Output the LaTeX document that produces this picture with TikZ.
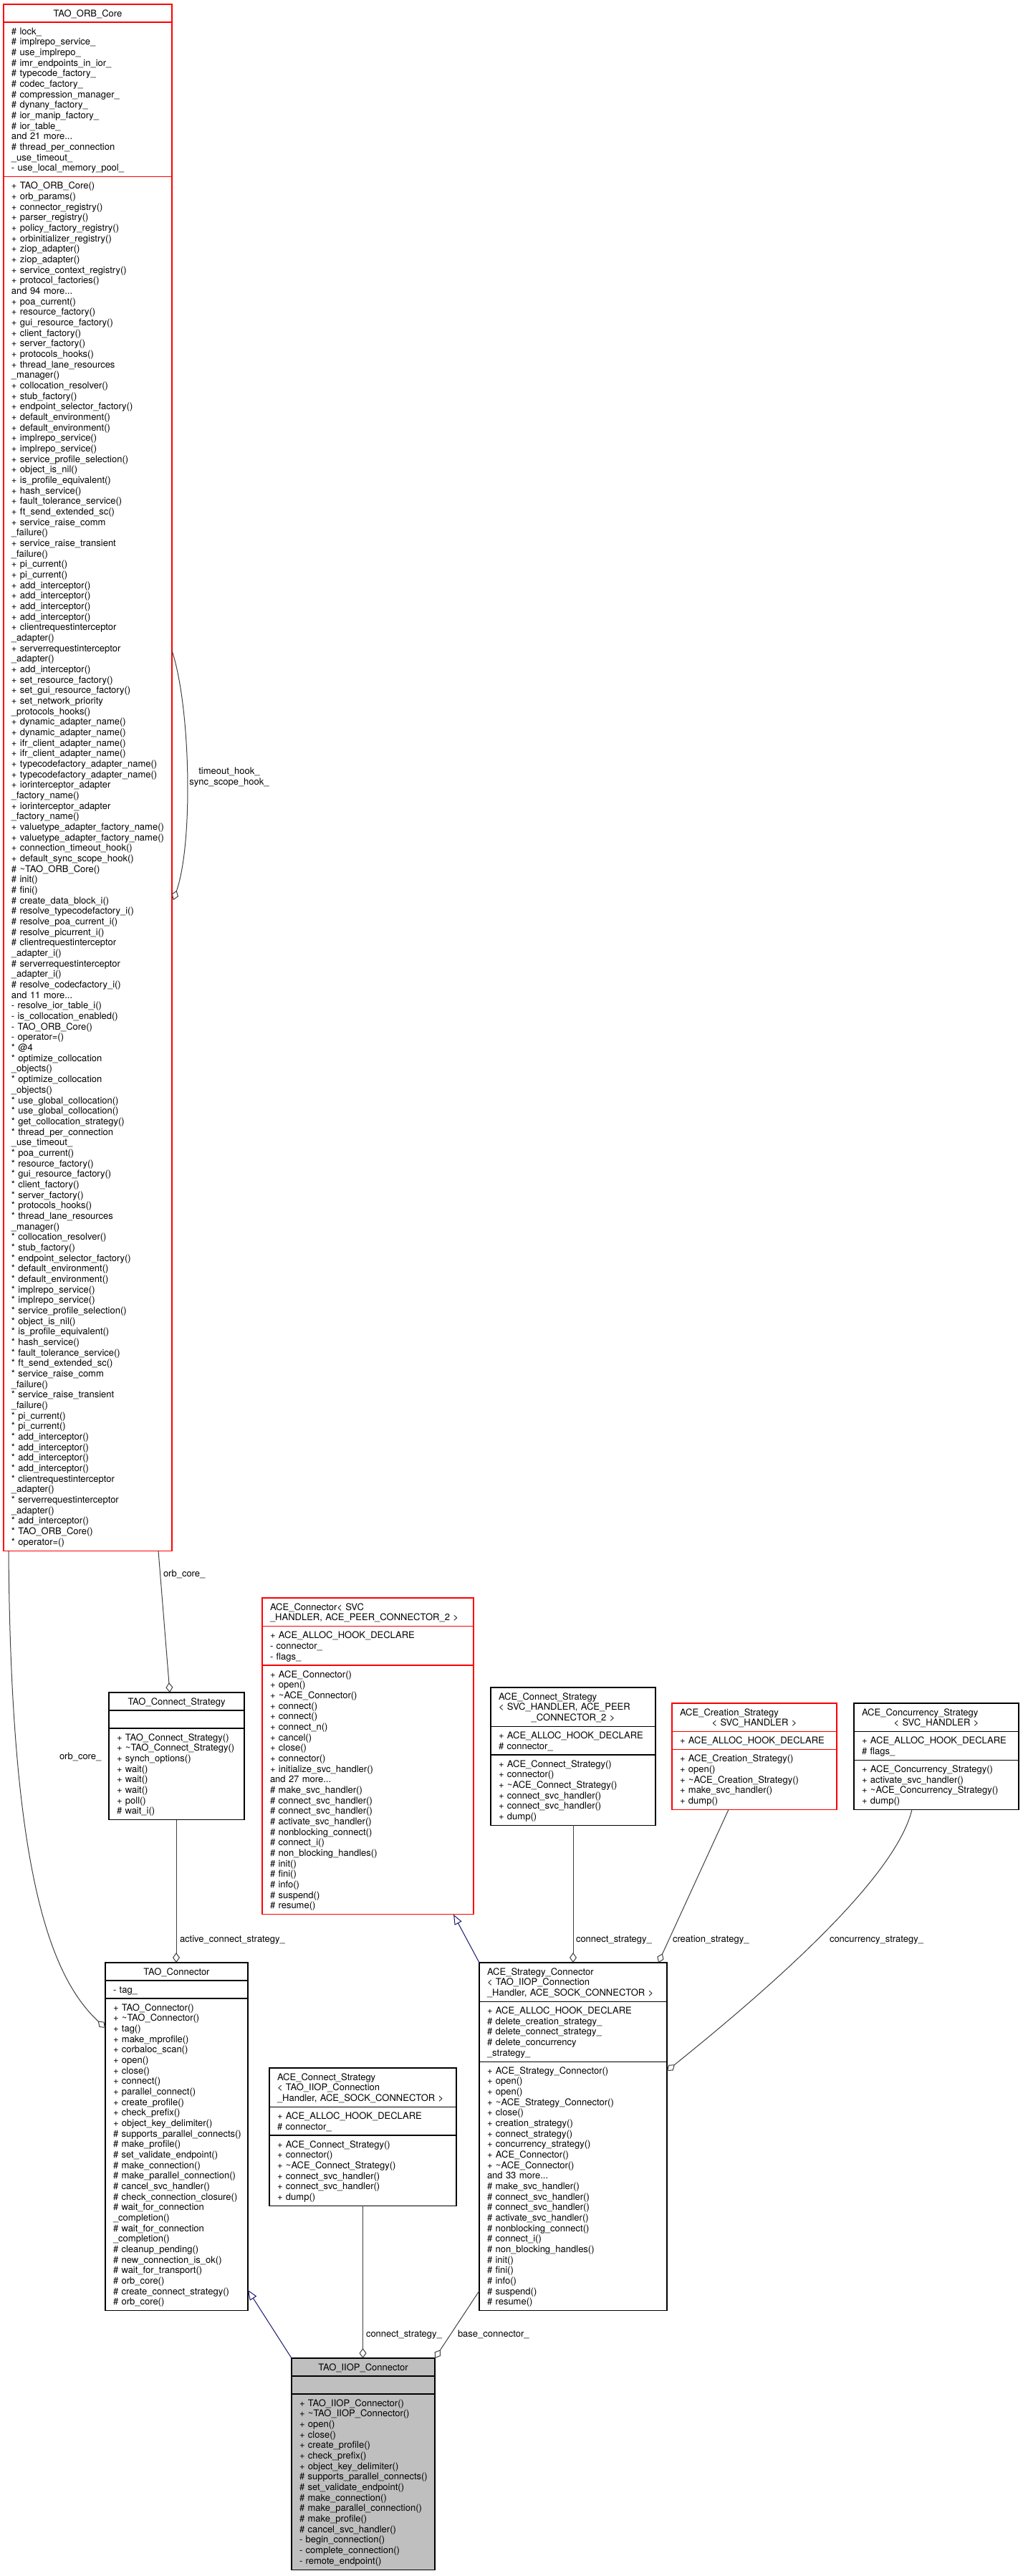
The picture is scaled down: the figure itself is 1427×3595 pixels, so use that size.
\documentclass[tikz,border=0pt]{standalone}
\usepackage{fontspec}
\setmainfont{TeX Gyre Heros}
\usetikzlibrary{arrows.meta,calc}
\definecolor{edgegray}{HTML}{404040}
\definecolor{navyblue}{HTML}{191970}
\definecolor{boxred}{HTML}{FF0000}
\definecolor{iiopfill}{HTML}{BFBFBF}
\newcommand\fstrut{\rule{0pt}{10pt}}
\newcommand\tld{\textasciitilde}
\tikzset{
  txt/.style={font=\fontsize{13}{14.67}\selectfont, inner sep=0pt, outer sep=0pt, text width=400pt, align=left, execute at begin node=\fstrut},
  ctxt/.style={font=\fontsize{13}{14.67}\selectfont, inner sep=0pt, outer sep=0pt, text width=300pt, align=center, execute at begin node=\fstrut},
  lbl/.style={txt, anchor=north west},
  aggr/.style={draw=edgegray, line width=1pt, -{Diamond[open, length=14pt, width=10pt]}},
  gen/.style={draw=navyblue, line width=1pt, -{Triangle[open, length=14pt, width=11pt]}},
}
% #1 name, #2 colour, #3 fill, #4 x, #5 top, #6 width, #7 header lines, #8 attr lines, #9 method lines
\newcommand\umlclass[9]{%
  \pgfmathsetmacro\hA{(#7-1)*14.67+25}%
  \pgfmathsetmacro\hB{(#8-1)*14.67+25}%
  \pgfmathsetmacro\hC{(#9-1)*14.67+25}%
  \pgfmathsetmacro\hT{\hA+\hB+\hC}%
  \pgfmathsetmacro\hAB{\hA+\hB}%
  \node[draw=#2, fill=#3, line width=1.1pt, inner sep=0pt, outer sep=0pt, anchor=north west,
        minimum width=#6pt, minimum height=\hT pt] (#1) at (#4,#5) {};
  \draw[#2, line width=1.1pt] ($(#1.north west)+(0,\hA)$) -- ($(#1.north east)+(0,\hA)$);
  \draw[#2, line width=1.1pt] ($(#1.north west)+(0,\hAB)$) -- ($(#1.north east)+(0,\hAB)$);
  \ifx\att\empty\else
    \node[txt, anchor=north west] (#1-a) at ($(#1.north west)+(11,{\hA+7})$) {\att};
  \fi
  \node[txt, anchor=north west] (#1-m) at ($(#1.north west)+(11,{\hAB+7})$) {\mth};
}
\begin{document}
\begin{tikzpicture}[x=1pt,y=-1pt]
\catcode`\_=12
\useasboundingbox[fill=white] (0,0) rectangle (1427,3595);

% ---------------- TAO_ORB_Core
\def\att{\# lock_\\\# implrepo_service_\\\# use_implrepo_\\\# imr_endpoints_in_ior_\\\# typecode_factory_\\\# codec_factory_\\\# compression_manager_\\\# dynany_factory_\\\# ior_manip_factory_\\\# ior_table_\\and 21 more...\\\# thread_per_connection\\_use_timeout_\\- use_local_memory_pool_}
\def\mth{+ TAO_ORB_Core()\\+ orb_params()\\+ connector_registry()\\+ parser_registry()\\+ policy_factory_registry()\\+ orbinitializer_registry()\\+ ziop_adapter()\\+ ziop_adapter()\\+ service_context_registry()\\+ protocol_factories()\\and 94 more...\\+ poa_current()\\+ resource_factory()\\+ gui_resource_factory()\\+ client_factory()\\+ server_factory()\\+ protocols_hooks()\\+ thread_lane_resources\\_manager()\\+ collocation_resolver()\\+ stub_factory()\\+ endpoint_selector_factory()\\+ default_environment()\\+ default_environment()\\+ implrepo_service()\\+ implrepo_service()\\+ service_profile_selection()\\+ object_is_nil()\\+ is_profile_equivalent()\\+ hash_service()\\+ fault_tolerance_service()\\+ ft_send_extended_sc()\\+ service_raise_comm\\_failure()\\+ service_raise_transient\\_failure()\\+ pi_current()\\+ pi_current()\\+ add_interceptor()\\+ add_interceptor()\\+ add_interceptor()\\+ add_interceptor()\\+ clientrequestinterceptor\\_adapter()\\+ serverrequestinterceptor\\_adapter()\\+ add_interceptor()\\+ set_resource_factory()\\+ set_gui_resource_factory()\\+ set_network_priority\\_protocols_hooks()\\+ dynamic_adapter_name()\\+ dynamic_adapter_name()\\+ ifr_client_adapter_name()\\+ ifr_client_adapter_name()\\+ typecodefactory_adapter_name()\\+ typecodefactory_adapter_name()\\+ iorinterceptor_adapter\\_factory_name()\\+ iorinterceptor_adapter\\_factory_name()\\+ valuetype_adapter_factory_name()\\+ valuetype_adapter_factory_name()\\+ connection_timeout_hook()\\+ default_sync_scope_hook()\\\# \tld TAO_ORB_Core()\\\# init()\\\# fini()\\\# create_data_block_i()\\\# resolve_typecodefactory_i()\\\# resolve_poa_current_i()\\\# resolve_picurrent_i()\\\# clientrequestinterceptor\\_adapter_i()\\\# serverrequestinterceptor\\_adapter_i()\\\# resolve_codecfactory_i()\\and 11 more...\\- resolve_ior_table_i()\\- is_collocation_enabled()\\- TAO_ORB_Core()\\- operator=()\\{}* @4\\{}* optimize_collocation\\_objects()\\{}* optimize_collocation\\_objects()\\{}* use_global_collocation()\\{}* use_global_collocation()\\{}* get_collocation_strategy()\\{}* thread_per_connection\\_use_timeout_\\{}* poa_current()\\{}* resource_factory()\\{}* gui_resource_factory()\\{}* client_factory()\\{}* server_factory()\\{}* protocols_hooks()\\{}* thread_lane_resources\\_manager()\\{}* collocation_resolver()\\{}* stub_factory()\\{}* endpoint_selector_factory()\\{}* default_environment()\\{}* default_environment()\\{}* implrepo_service()\\{}* implrepo_service()\\{}* service_profile_selection()\\{}* object_is_nil()\\{}* is_profile_equivalent()\\{}* hash_service()\\{}* fault_tolerance_service()\\{}* ft_send_extended_sc()\\{}* service_raise_comm\\_failure()\\{}* service_raise_transient\\_failure()\\{}* pi_current()\\{}* pi_current()\\{}* add_interceptor()\\{}* add_interceptor()\\{}* add_interceptor()\\{}* add_interceptor()\\{}* clientrequestinterceptor\\_adapter()\\{}* serverrequestinterceptor\\_adapter()\\{}* add_interceptor()\\{}* TAO_ORB_Core()\\{}* operator=()}
\umlclass{orb}{boxred}{white}{5}{6}{235}{1}{14}{130}
\node[ctxt, anchor=north] (orb-h) at ($(orb.north)+(0,7)$) {TAO_ORB_Core};

% ---------------- TAO_Connect_Strategy
\def\att{}
\def\mth{+ TAO_Connect_Strategy()\\+ \tld TAO_Connect_Strategy()\\+ synch_options()\\+ wait()\\+ wait()\\+ wait()\\+ poll()\\\# wait_i()}
\umlclass{tcs}{black}{white}{152}{2362}{189}{1}{1}{8}
\node[ctxt, anchor=north] (tcs-h) at ($(tcs.north)+(0,7)$) {TAO_Connect_Strategy};

% ---------------- TAO_Connector
\def\att{- tag_}
\def\mth{+ TAO_Connector()\\+ \tld TAO_Connector()\\+ tag()\\+ make_mprofile()\\+ corbaloc_scan()\\+ open()\\+ close()\\+ connect()\\+ parallel_connect()\\+ create_profile()\\+ check_prefix()\\+ object_key_delimiter()\\\# supports_parallel_connects()\\\# make_profile()\\\# set_validate_endpoint()\\\# make_connection()\\\# make_parallel_connection()\\\# cancel_svc_handler()\\\# check_connection_closure()\\\# wait_for_connection\\_completion()\\\# wait_for_connection\\_completion()\\\# cleanup_pending()\\\# new_connection_is_ok()\\\# wait_for_transport()\\\# orb_core()\\\# create_connect_strategy()\\\# orb_core()}
\umlclass{tcon}{black}{white}{147}{2739}{199}{1}{1}{29}
\node[ctxt, anchor=north] (tcon-h) at ($(tcon.north)+(0,7)$) {TAO_Connector};

% ---------------- ACE_Connector
\def\att{+ ACE_ALLOC_HOOK_DECLARE\\- connector_\\- flags_}
\def\mth{+ ACE_Connector()\\+ open()\\+ \tld ACE_Connector()\\+ connect()\\+ connect()\\+ connect_n()\\+ cancel()\\+ close()\\+ connector()\\+ initialize_svc_handler()\\and 27 more...\\\# make_svc_handler()\\\# connect_svc_handler()\\\# connect_svc_handler()\\\# activate_svc_handler()\\\# nonblocking_connect()\\\# connect_i()\\\# non_blocking_handles()\\\# init()\\\# fini()\\\# info()\\\# suspend()\\\# resume()}
\umlclass{acon}{boxred}{white}{366}{2230}{295}{2}{3}{23}
\node[txt, anchor=north west] (acon-h) at ($(acon.north west)+(11,7)$) {ACE_Connector< SVC\\_HANDLER, ACE_PEER_CONNECTOR_2 >};

% ---------------- ACE_Connect_Strategy< SVC_HANDLER, ACE_PEER_CONNECTOR_2 >
\def\att{+ ACE_ALLOC_HOOK_DECLARE\\\# connector_}
\def\mth{+ ACE_Connect_Strategy()\\+ connector()\\+ \tld ACE_Connect_Strategy()\\+ connect_svc_handler()\\+ connect_svc_handler()\\+ dump()}
\umlclass{acs}{black}{white}{685}{2355}{230}{3}{2}{6}
\node[txt, anchor=north west] (acs-h) at ($(acs.north west)+(11,7)$) {ACE_Connect_Strategy\\< SVC_HANDLER, ACE_PEER};
\node[ctxt, anchor=north] (acs-h2) at ($(acs.north)+(0,36.34)$) {_CONNECTOR_2 >};

% ---------------- ACE_Creation_Strategy
\def\att{+ ACE_ALLOC_HOOK_DECLARE}
\def\mth{+ ACE_Creation_Strategy()\\+ open()\\+ \tld ACE_Creation_Strategy()\\+ make_svc_handler()\\+ dump()}
\umlclass{acr}{boxred}{white}{938}{2377}{230}{2}{1}{5}
\node[txt, anchor=north west] (acr-h) at ($(acr.north west)+(11,7)$) {ACE_Creation_Strategy};
\node[ctxt, anchor=north] (acr-h2) at ($(acr.north)+(0,21.67)$) {< SVC_HANDLER >};

% ---------------- ACE_Concurrency_Strategy
\def\att{+ ACE_ALLOC_HOOK_DECLARE\\\# flags_}
\def\mth{+ ACE_Concurrency_Strategy()\\+ activate_svc_handler()\\+ \tld ACE_Concurrency_Strategy()\\+ dump()}
\umlclass{acc}{black}{white}{1192}{2377}{230}{2}{2}{4}
\node[txt, anchor=north west] (acc-h) at ($(acc.north west)+(11,7)$) {ACE_Concurrency_Strategy};
\node[ctxt, anchor=north] (acc-h2) at ($(acc.north)+(0,21.67)$) {< SVC_HANDLER >};

% ---------------- ACE_Strategy_Connector
\def\att{+ ACE_ALLOC_HOOK_DECLARE\\\# delete_creation_strategy_\\\# delete_connect_strategy_\\\# delete_concurrency\\_strategy_}
\def\mth{+ ACE_Strategy_Connector()\\+ open()\\+ open()\\+ \tld ACE_Strategy_Connector()\\+ close()\\+ creation_strategy()\\+ connect_strategy()\\+ concurrency_strategy()\\+ ACE_Connector()\\+ \tld ACE_Connector()\\and 33 more...\\\# make_svc_handler()\\\# connect_svc_handler()\\\# connect_svc_handler()\\\# activate_svc_handler()\\\# nonblocking_connect()\\\# connect_i()\\\# non_blocking_handles()\\\# init()\\\# fini()\\\# info()\\\# suspend()\\\# resume()}
\umlclass{asc}{black}{white}{669}{2739}{262}{3}{5}{23}
\node[txt, anchor=north west] (asc-h) at ($(asc.north west)+(11,7)$) {ACE_Strategy_Connector\\< TAO_IIOP_Connection\\_Handler, ACE_SOCK_CONNECTOR >};

% ---------------- ACE_Connect_Strategy< TAO_IIOP_Connection_Handler, ACE_SOCK_CONNECTOR >
\def\att{+ ACE_ALLOC_HOOK_DECLARE\\\# connector_}
\def\mth{+ ACE_Connect_Strategy()\\+ connector()\\+ \tld ACE_Connect_Strategy()\\+ connect_svc_handler()\\+ connect_svc_handler()\\+ dump()}
\umlclass{acsi}{black}{white}{376}{2886}{261}{3}{2}{6}
\node[txt, anchor=north west] (acsi-h) at ($(acsi.north west)+(11,7)$) {ACE_Connect_Strategy\\< TAO_IIOP_Connection\\_Handler, ACE_SOCK_CONNECTOR >};

% ---------------- TAO_IIOP_Connector
\def\att{}
\def\mth{+ TAO_IIOP_Connector()\\+ \tld TAO_IIOP_Connector()\\+ open()\\+ close()\\+ create_profile()\\+ check_prefix()\\+ object_key_delimiter()\\\# supports_parallel_connects()\\\# set_validate_endpoint()\\\# make_connection()\\\# make_parallel_connection()\\\# make_profile()\\\# cancel_svc_handler()\\- begin_connection()\\- complete_connection()\\- remote_endpoint()}
\umlclass{iiop}{black}{iiopfill}{407}{3291}{200}{1}{1}{16}
\node[ctxt, anchor=north] (iiop-h) at ($(iiop.north)+(0,7)$) {TAO_IIOP_Connector};

% ---------------- connectors
\draw[aggr] ($(orb.north east)+(0,902)$) .. controls ($(orb.north east)+(26,980)$) and ($(orb.north east)+(30,1170)$) .. ($(orb.north east)+(2,1250)$);
\node[ctxt, anchor=north] (l-hook) at (320,1070.5) {timeout_hook_\\sync_scope_hook_};

\draw[aggr] ($(orb.south west)+(216,0)$) -- ($(tcs.north west)+(85,0)$);
\node[lbl] (l-orb1) at (228,2190.5) {orb_core_};

\draw[aggr] ($(orb.south west)+(7,0)$) .. controls ($(orb.south west)+(10,430)$) and ($(orb.south west)+(60,590)$) .. ($(tcon.north west)+(0,91)$);
\node[lbl] (l-orb2) at (83,2445.5) {orb_core_};

\draw[aggr] ($(tcs.south west)+(94,0)$) -- ($(tcon.north west)+(99,0)$);
\node[lbl] (l-acs) at (251,2700.5) {active_connect_strategy_};

\draw[aggr] (acs.south) -- (acs.south |- asc.north);
\node[lbl] (l-cs1) at (804,2700.5) {connect_strategy_};

\draw[aggr] ($(acr.south west)+(79,0)$) -- ($(asc.north west)+(250,0)$);
\node[lbl] (l-cr) at (939,2700.5) {creation_strategy_};

\draw[aggr] ($(acc.south west)+(81,0)$) .. controls ($(acc.south west)+(58,95)$) and ($(asc.north east)+(149,31)$) .. ($(asc.north east)+(0,151)$);
\node[lbl] (l-cc) at (1158,2700.5) {concurrency_strategy_};

\draw[gen] (asc.north west) -- ($(acon.south west)+(267,0)$);

\draw[aggr] (acsi.south) -- (acsi.south |- iiop.north);
\node[lbl] (l-cs2) at (511,3251.5) {connect_strategy_};

\draw[aggr] ($(asc.north west)+(0,458)$) -- (iiop.north east);
\node[lbl] (l-base) at (639,3251.5) {base_connector_};

\draw[gen] (iiop.north west) -- ($(tcon.south east)+(0,-29)$);
\end{tikzpicture}
\end{document}
